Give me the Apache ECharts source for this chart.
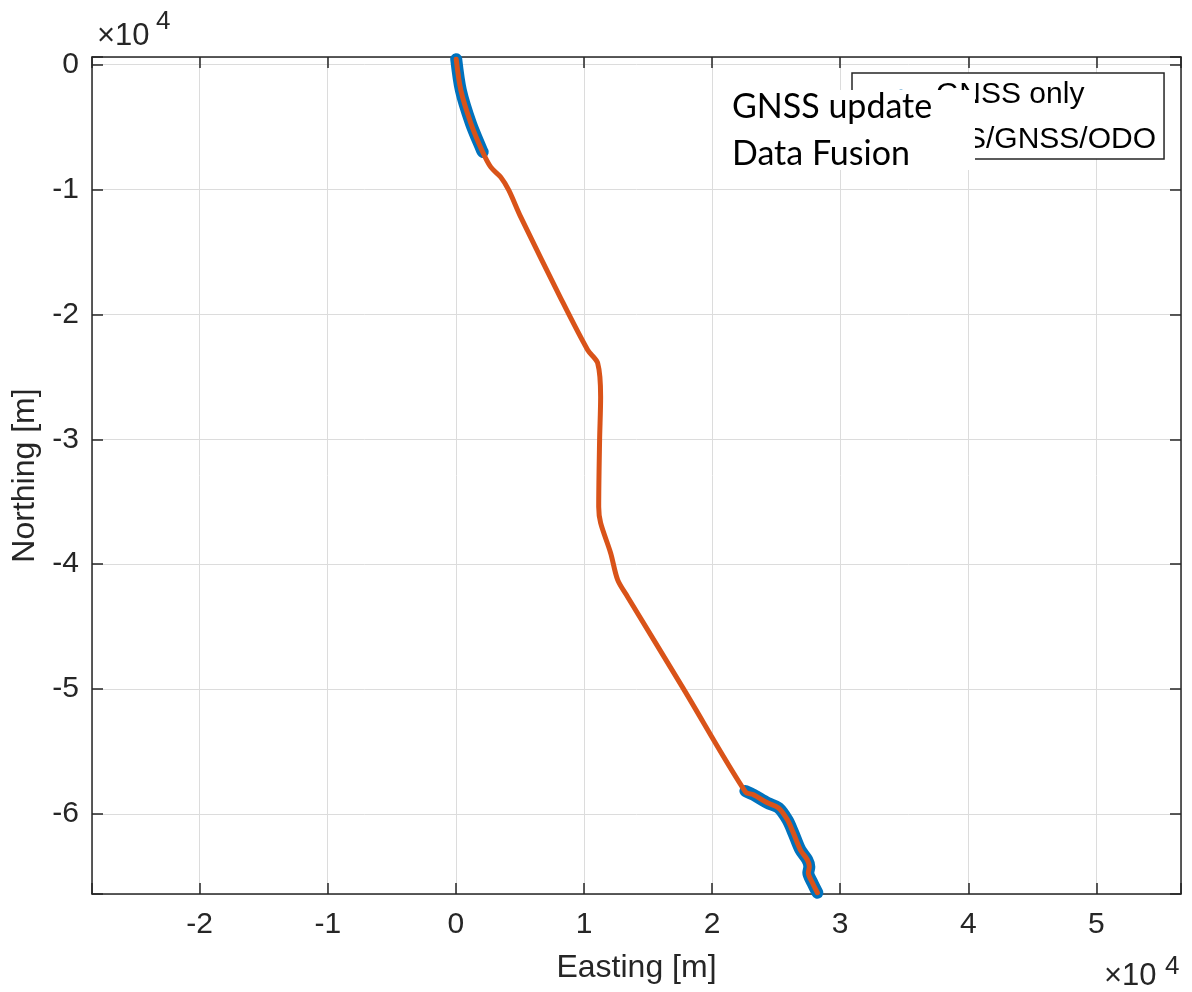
<!DOCTYPE html>
<html>
<head>
<meta charset="utf-8">
<title>Trajectory</title>
<script src="https://cdn.jsdelivr.net/npm/echarts@6/dist/echarts.min.js"></script>
<style>
    html, body { margin: 0; padding: 0; background: #fff; }
    #chart { width: 1192px; height: 992px; }
</style>
</head>
<body>
<div id="chart"></div>
<script>
// INS/GNSS/ODO solution, Easting / Northing in metres
var fusionEast = [30, 390, 1170, 2030, 2730, 3510, 4130, 5070, 8180, 10290, 11070, 11300, 11220, 11150, 11300,
    12080, 12630, 13410, 17770, 22600, 23230, 24320, 25180, 25880, 26340, 26890, 27430, 27590, 27510, 27830, 28220];
var fusionNorth = [420, -2060, -4700, -6860, -8220, -9020, -10060, -12220, -18700, -22860, -23900, -26620, -30060, -35420, -36700,
    -39100, -41260, -42620, -49980, -58220, -58460, -59100, -59500, -60460, -61500, -62860, -63660, -64220, -64700, -65500, -66300];

// GNSS only, two stretches where it was available
var gnssEastA = [30, 390, 1170, 2030, 2100];
var gnssNorthA = [420, -2060, -4700, -6860, -7000];
var gnssEastB = [22600, 23230, 24320, 25180, 25880, 26340, 26890, 27430, 27590, 27510, 27830, 28220];
var gnssNorthB = [-58150, -58460, -59100, -59500, -60460, -61500, -62860, -63660, -64220, -64700, -65500, -66300];

var legendNames = ['GNSS only', 'INS/GNSS/ODO'];
var overlayLines = ['GNSS update', 'Data Fusion'];

var FONT = "'Liberation Sans', Helvetica, Arial, sans-serif";
var AX = '#262626';

function pairs(xs, ys) {
    var out = [];
    for (var i = 0; i < xs.length; i++) out.push([xs[i], ys[i]]);
    return out;
}

function tickLabel(v) {
    return (Math.abs(v % 10000) < 1e-6) ? String(Math.round(v / 10000)) : '';
}

var chart = echarts.init(document.getElementById('chart'));

var xBase = {
    type: 'value', min: -28400, max: 56600, splitNumber: 8,
    axisLine: { show: true, onZero: false, lineStyle: { color: AX, width: 1.5 } },
    axisTick: { show: true, inside: true, length: 11, lineStyle: { color: AX, width: 1.5 } }
};
var yBase = {
    type: 'value', min: -66400, max: 600, splitNumber: 7,
    axisLine: { show: true, onZero: false, lineStyle: { color: AX, width: 1.5 } },
    axisTick: { show: true, inside: true, length: 11, lineStyle: { color: AX, width: 1.5 } }
};

var option = {
    backgroundColor: '#fff',
    animation: false,
    grid: { left: 92, right: 11, top: 57, bottom: 98, containLabel: false },
    legend: {
        data: legendNames,
        orient: 'vertical',
        left: 852, top: 73,
        padding: [7, 8, 4, 18],
        itemGap: 15,
        itemWidth: 60, itemHeight: 14,
        borderColor: AX, borderWidth: 1.5,
        backgroundColor: '#fff',
        selectedMode: false,
        textStyle: { fontSize: 30, color: '#000', fontFamily: FONT }
    },
    xAxis: [
        Object.assign({}, xBase, {
            position: 'bottom',
            name: 'Easting [m]', nameLocation: 'middle', nameGap: 58,
            nameTextStyle: { fontSize: 32, color: AX, fontFamily: FONT },
            axisLabel: { formatter: tickLabel, fontSize: 30, color: AX, fontFamily: FONT, margin: 16 },
            splitLine: { show: true, lineStyle: { color: '#dcdcdc', width: 1 } }
        }),
        Object.assign({}, xBase, {
            position: 'top',
            axisLabel: { show: false },
            splitLine: { show: false }
        })
    ],
    yAxis: [
        Object.assign({}, yBase, {
            position: 'left',
            name: 'Northing [m]', nameLocation: 'middle', nameGap: 47,
            nameTextStyle: { fontSize: 32, color: AX, fontFamily: FONT },
            axisLabel: { formatter: tickLabel, fontSize: 30, color: AX, fontFamily: FONT, margin: 13 },
            splitLine: { show: true, lineStyle: { color: '#dcdcdc', width: 1 } }
        }),
        Object.assign({}, yBase, {
            position: 'right',
            axisLabel: { show: false },
            splitLine: { show: false }
        })
    ],
    series: [
        {
            name: legendNames[0], type: 'line', symbol: 'none', clip: false, smooth: 0.3,
            data: pairs(gnssEastA, gnssNorthA),
            lineStyle: { color: '#0072BD', width: 12, cap: 'round', join: 'round' },
            itemStyle: { color: '#0072BD' }
        },
        {
            name: legendNames[0], type: 'line', symbol: 'none', clip: false, smooth: 0.3,
            data: pairs(gnssEastB, gnssNorthB),
            lineStyle: { color: '#0072BD', width: 12, cap: 'round', join: 'round' },
            itemStyle: { color: '#0072BD' }
        },
        {
            name: legendNames[1], type: 'line', symbol: 'none', clip: false, smooth: 0.3,
            data: pairs(fusionEast, fusionNorth),
            lineStyle: { color: '#D95319', width: 5, cap: 'round', join: 'round' },
            itemStyle: { color: '#D95319' }
        }
    ],
    graphic: [
        // exponent labels
        { type: 'text', x: 97, y: 36, z: 100, style: { text: '×10', fontSize: 31, fontFamily: FONT, fill: AX, verticalAlign: 'middle' } },
        { type: 'text', x: 156, y: 22, z: 100, style: { text: '4', fontSize: 26, fontFamily: FONT, fill: AX, verticalAlign: 'middle' } },
        { type: 'text', x: 1104, y: 976, z: 100, style: { text: '×10', fontSize: 31, fontFamily: FONT, fill: AX, verticalAlign: 'middle' } },
        { type: 'text', x: 1165, y: 967, z: 100, style: { text: '4', fontSize: 26, fontFamily: FONT, fill: AX, verticalAlign: 'middle' } },
        // white note pasted over the legend
        { type: 'rect', z: 100, shape: { x: 731, y: 90, width: 244, height: 80 }, style: { fill: '#fff' } },
        { type: 'text', x: 732, y: 107, z: 101, style: { text: overlayLines[0], fontSize: 34, fontFamily: 'Lato, sans-serif', fill: '#000', verticalAlign: 'middle' } },
        { type: 'text', x: 732, y: 154, z: 101, style: { text: overlayLines[1], fontSize: 34, fontFamily: 'Lato, sans-serif', fill: '#000', verticalAlign: 'middle' } }
    ]
};

chart.setOption(option);
window.addEventListener('resize', function () {
    chart.resize();
});
</script>
</body>
</html>
